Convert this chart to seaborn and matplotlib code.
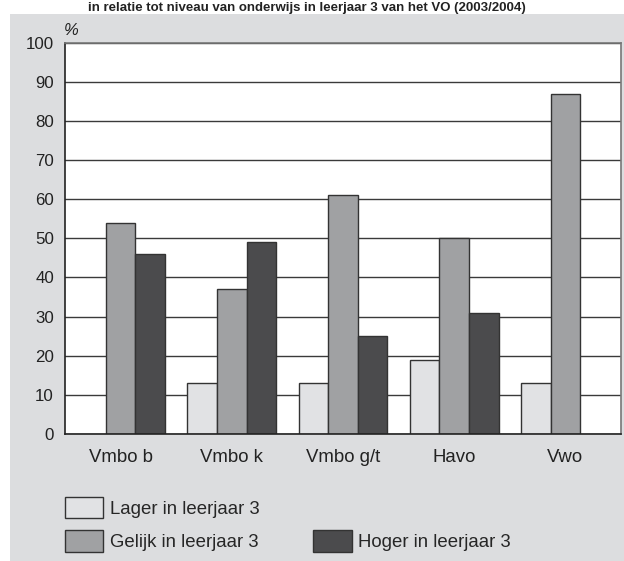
import numpy as np
import pandas as pd
import matplotlib
matplotlib.use('Agg')
import matplotlib.pyplot as plt
import seaborn as sns
from matplotlib.patches import Rectangle, Patch

# Data
groups = ['Vmbo b', 'Vmbo k', 'Vmbo g/t', 'Havo', 'Vwo']
lager = [np.nan, 13, 13, 19, 13]
gelijk = [54, 37, 61, 50, 87]
hoger = [46, 49, 25, 31, np.nan]
series = ['Lager in leerjaar 3', 'Gelijk in leerjaar 3', 'Hoger in leerjaar 3']
colors = ['#e1e2e4', '#a0a1a3', '#4b4b4d']

df = pd.DataFrame({'Niveau': groups * 3,
                   'Groep': [series[0]] * 5 + [series[1]] * 5 + [series[2]] * 5,
                   'Waarde': lager + gelijk + hoger}).dropna()

sns.set_theme(style='white')
plt.rcParams['font.family'] = ['Liberation Sans', 'DejaVu Sans']

fig = plt.figure(figsize=(6.24, 5.61), dpi=100)
fig.patch.set_facecolor('white')
# grey panel behind the chart
fig.patches.append(Rectangle((10 / 624, 0), 614 / 624, 1 - 14 / 561, transform=fig.transFigure,
                             facecolor='#dcdddf', edgecolor='none', zorder=-5))
# title at the top of the picture (cut in the source)
fig.text(88 / 624, 1 - 11 / 561, 'in relatie tot niveau van onderwijs in leerjaar 3 van het VO (2003/2004)',
         fontsize=9.5, fontweight='bold', color='#222222', va='baseline', ha='left')

ax = fig.add_axes([65 / 624, 127 / 561, 556 / 624, 391.3 / 561])
ax.set_zorder(2)
ax.set_facecolor('white')
ax.set_axisbelow(True)
ax.yaxis.grid(True, color='#3a3a3a', linewidth=1)

sns.barplot(data=df, x='Niveau', y='Waarde', hue='Groep', order=groups, hue_order=series,
            palette=colors, width=0.8, edgecolor='#333333', linewidth=1, ax=ax, legend=False)

ax.set_xlim(-0.5, 4.5)
ax.set_ylim(0, 100)
ax.set_yticks(range(0, 101, 10))
ax.set_xlabel('')
ax.set_ylabel('')
ax.tick_params(axis='both', length=0, colors='#222222')
ax.tick_params(axis='x', pad=10.5, labelsize=13.4)
ax.tick_params(axis='y', pad=8, labelsize=12.2)
for s in ['left', 'bottom']:
    ax.spines[s].set_color('#222222')
    ax.spines[s].set_linewidth(1.2)
for s in ['top', 'right']:
    ax.spines[s].set_color('#777777')
    ax.spines[s].set_linewidth(1.2)

ax.text(-0.003, 1.012, '%', transform=ax.transAxes, fontsize=12, style='italic',
        ha='left', va='bottom', color='#222222')

handles = [Patch(facecolor=c, edgecolor='#333333', linewidth=1) for c in colors]
blank = Patch(facecolor='none', edgecolor='none')
leg = fig.legend(handles=[handles[0], handles[1], blank, handles[2]],
                 labels=[series[0], series[1], '', series[2]],
                 ncol=2, loc='upper left', bbox_to_anchor=(65 / 624, 1 - 497 / 561),
                 frameon=False, fontsize=13.4, handlelength=2.05, handleheight=1.4,
                 handletextpad=0.35, labelspacing=0.62, columnspacing=2.9, borderaxespad=0,
                 borderpad=0)
leg.set_zorder(3)

fig.savefig('out.png', dpi=100)
